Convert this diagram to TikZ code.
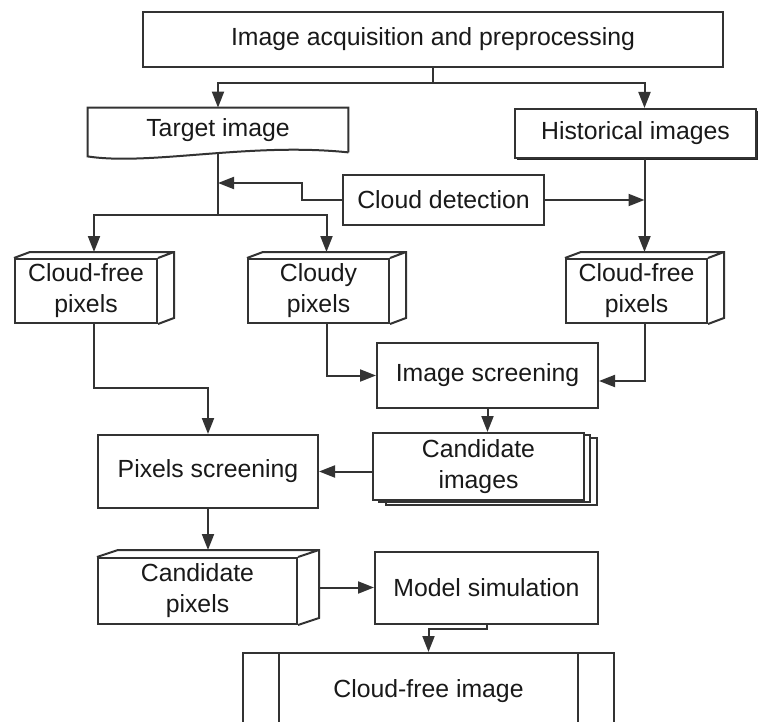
\documentclass[tikz,border=0pt]{standalone}
\usepackage{fontspec}
\setmainfont{Liberation Sans}
\usetikzlibrary{arrows.meta,shadows}

\begin{document}
\begin{tikzpicture}[x=0.5pt, y=-0.5pt,
    every node/.style={font=\fontsize{12.4pt}{15.5pt}\selectfont, text=black!90, align=center, inner sep=0pt},
    box/.style={draw=black!80, line width=1pt, fill=white},
    shadowbox/.style={box, drop shadow={shadow xshift=1.2pt, shadow yshift=-1.2pt, fill=black!85, opacity=1}},
    stack/.style={box,
      copy shadow={shadow xshift=6.5pt, shadow yshift=-2.5pt, draw=black!80, fill=white},
      copy shadow={shadow xshift=3pt, shadow yshift=-1.2pt, draw=black!80, fill=white}},
    line/.style={draw=black!80, line width=1pt},
    >={Triangle[length=8pt,width=6pt]}]

  \useasboundingbox (0,0) rectangle (761,722);
  \clip (0,0) rectangle (761,722);

  % boxes
  \node[box, minimum width=290pt, minimum height=27.5pt] (acq) at (433,39.5) {Image acquisition and preprocessing};
  \node[minimum width=130pt, minimum height=22pt] (target) at (218,130) {Target image};
  \node[shadowbox, minimum width=120.5pt, minimum height=24.5pt] (hist) at (635.5,133.5) {Historical images};
  \node[box, minimum width=100.5pt, minimum height=25pt] (cloud) at (443.5,200) {Cloud detection};

  \node[box, minimum width=71pt, minimum height=32pt] (cfa) at (86,291) {Cloud-free\\pixels};
  \node[box, minimum width=70.5pt, minimum height=32pt] (cloudy) at (318.5,291) {Cloudy\\pixels};
  \node[box, minimum width=70.5pt, minimum height=32pt] (cfb) at (636.5,291) {Cloud-free\\pixels};

  \node[box, minimum width=110.5pt, minimum height=32.5pt] (imgscr) at (487.5,375.5) {Image screening};
  \node[stack, minimum width=105.5pt, minimum height=33.5pt] (candimg) at (478.5,466.5) {Candidate\\images};
  \node[box, minimum width=110pt, minimum height=36.5pt] (pixscr) at (208,471.5) {Pixels screening};
  \node[box, minimum width=99.5pt, minimum height=33pt] (cpix) at (197.5,591) {Candidate\\pixels};
  \node[box, minimum width=111.5pt, minimum height=36pt] (model) at (486.5,588) {Model simulation};
  \node[box, minimum width=185.5pt, minimum height=38.5pt] (cfimg) at (428.5,691.5) {Cloud-free image};

  % document outline of the target image
  \draw[line] (target.south east) -- (target.north east) -- (target.north west)
    -- ([yshift=-2pt]target.south west) .. controls (150,166) and (250,142) .. (target.south east);

  % side bars of the output
  \draw[line] ([xshift=18.5pt]cfimg.north west) -- ([xshift=18.5pt]cfimg.south west)
    ([xshift=-18.5pt]cfimg.north east) -- ([xshift=-18.5pt]cfimg.south east);

  % 3d faces of the pixel boxes
  \foreach \n/\dx/\dy in {cfa/16/-6, cloudy/16/-6, cfb/16/-6, cpix/21/-7} {
    \draw[line] (\n.north west) -- ++(\dx,\dy) -- ([shift={(\dx,\dy)}]\n.north east)
      -- ([shift={(\dx,\dy)}]\n.south east) -- (\n.south east)
      (\n.north east) -- ++(\dx,\dy);
    \coordinate (\n-top) at ([shift={(\dx/2,\dy)}]\n.north);
    \coordinate (\n-bot) at ([shift={(\dx/2,0)}]\n.south);
    \coordinate (\n-east) at ([shift={(\dx,\dy/2)}]\n.east);
  }

  % connectors
  \draw[line, ->] (acq.south) -- ++(0,15) -| (target.north);
  \draw[line, ->] (acq.south) -- ++(0,15) -| (hist.north -| cfb-top);
  \draw[line, ->] (hist.south -| cfb-top) -- (cfb-top);
  \draw[line, ->] (cloud.east) -- (cloud.east -| cfb-top);
  \draw[line, ->] (cloud.west) -- ++(-40,0) -- ++(0,-17) coordinate (c1) -- (c1 -| target.south);

  \draw[line] (target.south) -- ++(0,63) coordinate (split);
  \draw[line, ->] (split) -| (cfa-top);
  \draw[line, ->] (split) -| (cloudy-top);

  \draw[line, ->] (cfa-bot) -- ++(0,64) -| (pixscr.north);
  \draw[line, ->] (cloudy-bot) |- (imgscr.west);
  \draw[line, ->] (cfb-bot) |- ([yshift=-2.75pt]imgscr.east);
  \draw[line, ->] (imgscr.south) -- (imgscr.south |- candimg.north);
  \draw[line, ->] (candimg.west |- pixscr.east) -- (pixscr.east);
  \draw[line, ->] (pixscr.south) -- (cpix-top);
  \draw[line, ->] (cpix-east) -- (cpix-east -| model.west);
  \draw[line, ->] (model.south) -- ++(0,4) -| (cfimg.north);

\end{tikzpicture}
\end{document}
